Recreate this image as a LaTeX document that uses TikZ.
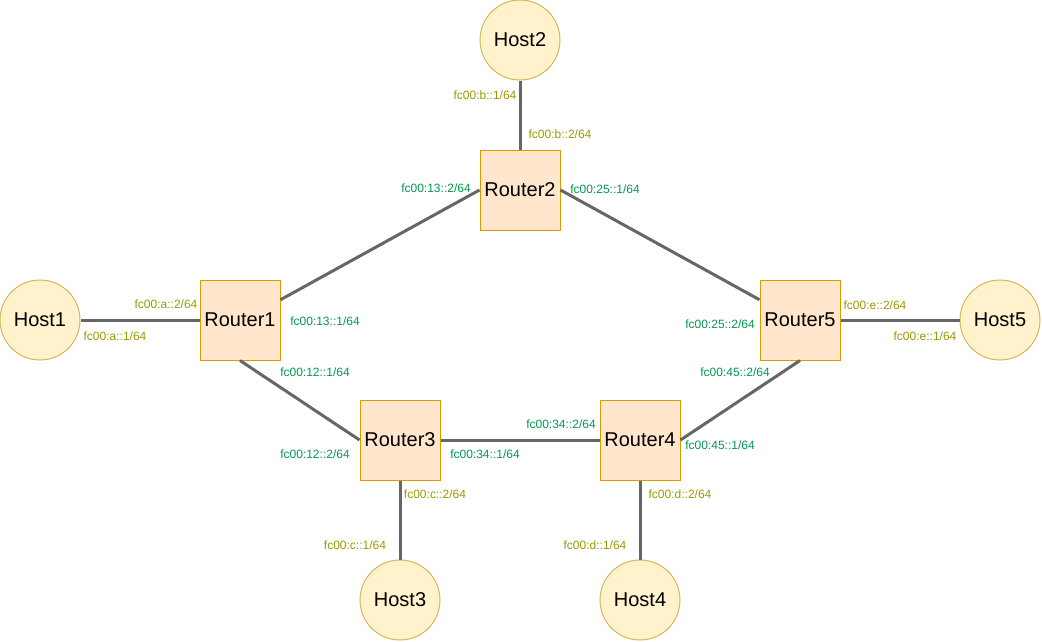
\documentclass[tikz,border=0pt]{standalone}
\usepackage{fontspec}
\setmainfont{Liberation Sans}
\usetikzlibrary{calc}
\definecolor{routerfill}{HTML}{FFE6CC}
\definecolor{routerdraw}{HTML}{D79B00}
\definecolor{hostfill}{HTML}{FFF2CC}
\definecolor{hostdraw}{HTML}{D6B656}
\definecolor{linkgray}{HTML}{666666}
\definecolor{hostnet}{HTML}{999900}
\definecolor{corenet}{HTML}{00994D}
\tikzset{
  router/.style={draw=routerdraw, fill=routerfill, line width=1pt, minimum width=80pt, minimum height=80pt, inner sep=0pt, font=\fontsize{20}{23}\selectfont},
  host/.style={circle, draw=hostdraw, fill=hostfill, line width=1pt, minimum size=80pt, inner sep=0pt, font=\fontsize{20}{23}\selectfont},
  link/.style={draw=linkgray, line width=3pt},
  haddr/.style={text=hostnet, font=\fontsize{12}{14}\selectfont, inner sep=0pt},
  caddr/.style={text=corenet, font=\fontsize{12}{14}\selectfont, inner sep=0pt}
}
\begin{document}
\begin{tikzpicture}[x=1pt, y=-1pt]
\useasboundingbox (0,0) rectangle (1042,641);

% hosts
\node[host] (h1) at (40,320) {Host1};
\node[host] (h2) at (520,40) {Host2};
\node[host] (h3) at (400,600) {Host3};
\node[host] (h4) at (640,600) {Host4};
\node[host] (h5) at (1000,320) {Host5};

% routers
\node[router] (r1) at (240,320) {Router1};
\node[router] (r2) at (520,190) {Router2};
\node[router] (r3) at (400,440) {Router3};
\node[router] (r4) at (640,440) {Router4};
\node[router] (r5) at (800,320) {Router5};

% links
\draw[link] (h1.east) -- (r1.west);
\draw[link] (h2.south) -- (r2.north);
\draw[link] (h3.north) -- (r3.south);
\draw[link] (h4.north) -- (r4.south);
\draw[link] (h5.west) -- (r5.east);
\draw[link] ($(r1.north east)!0.25!(r1.south east)$) -- (r2.west);
\draw[link] (r2.east) -- ($(r5.north west)!0.25!(r5.south west)$);
\draw[link] (r1.south) -- (r3.west);
\draw[link] (r3.east) -- (r4.west);
\draw[link] (r4.east) -- (r5.south);

% host subnet addresses
\node[haddr] (a1) at (115,336) {fc00:a::1/64};
\node[haddr] (a2) at (166,304) {fc00:a::2/64};
\node[haddr] (b1) at (485,95) {fc00:b::1/64};
\node[haddr] (b2) at (560,134) {fc00:b::2/64};
\node[haddr] (c1) at (355,545) {fc00:c::1/64};
\node[haddr] (c2) at (435,494) {fc00:c::2/64};
\node[haddr] (d1) at (595,545) {fc00:d::1/64};
\node[haddr] (d2) at (680,494) {fc00:d::2/64};
\node[haddr] (e1) at (925,336) {fc00:e::1/64};
\node[haddr] (e2) at (875,305) {fc00:e::2/64};

% router link addresses
\node[caddr] (n131) at (325,321) {fc00:13::1/64};
\node[caddr] (n132) at (436,188) {fc00:13::2/64};
\node[caddr] (n251) at (605,189) {fc00:25::1/64};
\node[caddr] (n252) at (720,324) {fc00:25::2/64};
\node[caddr] (n121) at (315,372) {fc00:12::1/64};
\node[caddr] (n122) at (315,454) {fc00:12::2/64};
\node[caddr] (n341) at (485,454) {fc00:34::1/64};
\node[caddr] (n342) at (561,424) {fc00:34::2/64};
\node[caddr] (n451) at (720,445) {fc00:45::1/64};
\node[caddr] (n452) at (735,372) {fc00:45::2/64};
\end{tikzpicture}
\end{document}
